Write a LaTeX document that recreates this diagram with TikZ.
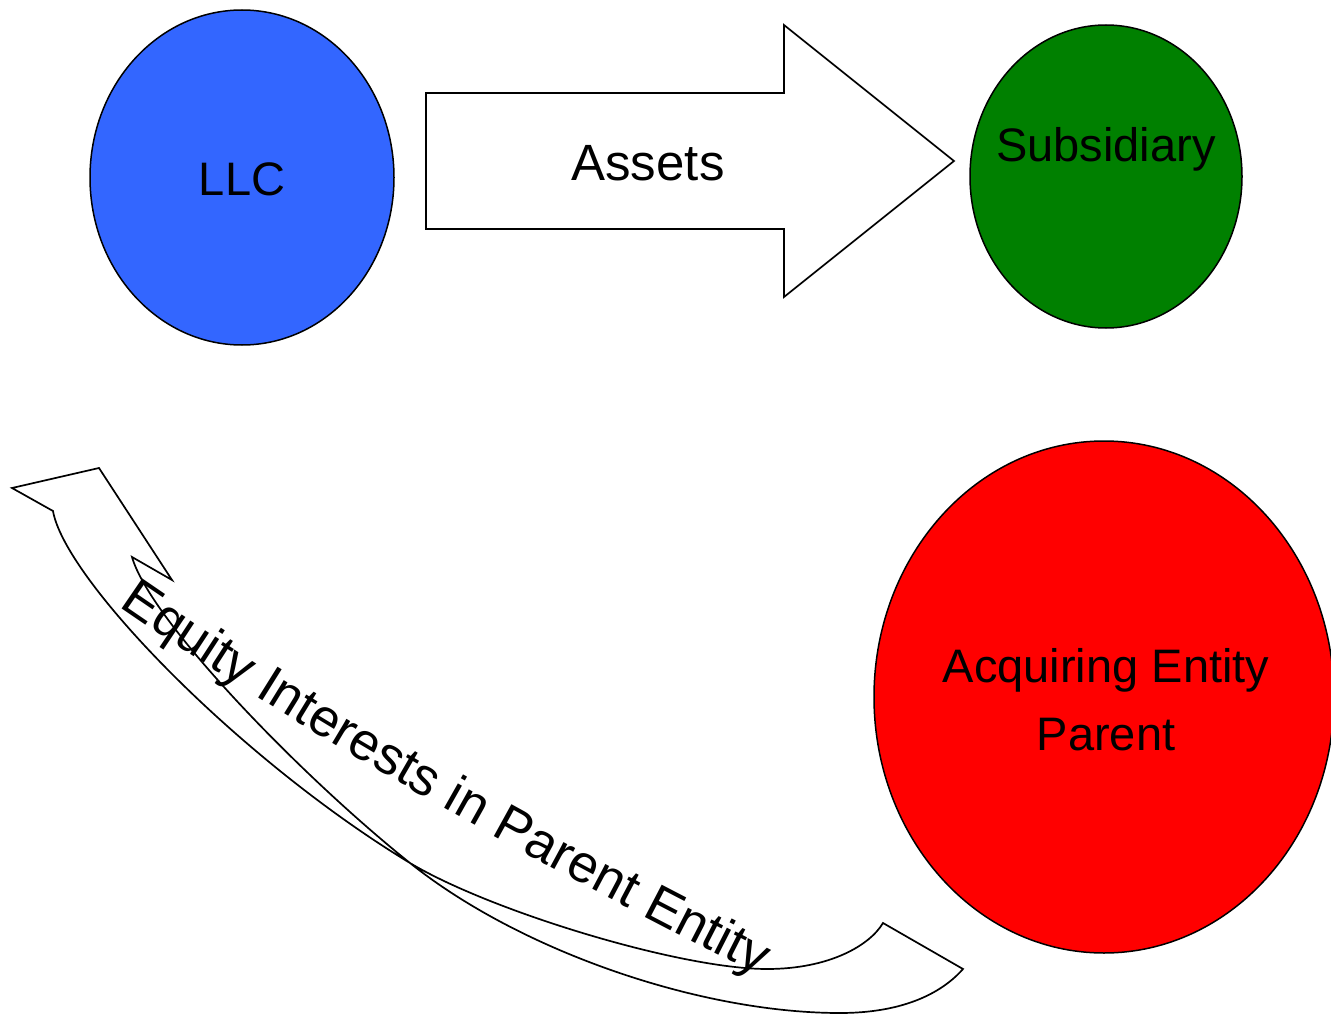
\documentclass[tikz,border=0pt]{standalone}
\usepackage{fontspec}
\setmainfont{Liberation Sans}
\usetikzlibrary{shapes.geometric,decorations.text}
\definecolor{llcblue}{HTML}{3366FF}
\definecolor{subgreen}{HTML}{008000}
\definecolor{parred}{HTML}{FF0000}
\tikzset{
  entity/.style={ellipse, draw=black, line width=1.5pt, inner sep=0pt},
  lbl/.style={font=\fontsize{47}{56}\selectfont, inner sep=0pt, anchor=base},
  outline/.style={draw=black, line width=1.7pt, line join=miter},
}
\begin{document}
\begin{tikzpicture}[x=1pt, y=-1pt]
\useasboundingbox (0,0) rectangle (1331,1014);

% entities
\node[entity, fill=llcblue, minimum width=304pt, minimum height=335pt] (llc) at (242,177.5) {};
\node[entity, fill=subgreen, minimum width=272pt, minimum height=303pt] (sub) at (1106,176.5) {};
\node[entity, fill=parred, minimum width=460pt, minimum height=512pt] (par) at (1104,697) {};

\node[lbl] (llctext) at (242,196) {LLC};
\node[lbl] (subtext) at (1106,162) {Subsidiary};
\node[lbl] (partextA) at (1106,682) {Acquiring Entity};
\node[lbl] (partextB) at (1106,750) {Parent};

% block arrow carrying the assets
\draw[outline, fill=white] (426,93) -- (784,93) -- (784,25) -- (954,161)
  -- (784,297) -- (784,229) -- (426,229) -- cycle;
\node[lbl, font=\fontsize{51}{60}\selectfont] (assets) at (648,181) {Assets};

% twisted curved arrow back to the LLC
\draw[outline]
  (12,488) -- (99,468) -- (172,580) -- (132,557)
  .. controls (150,620) and (300,775) .. (410,863)
  .. controls (520,951) and (700,1013) .. (840,1013)
  .. controls (900,1013) and (940,995) .. (963,969)
  -- (883,923)
  .. controls (870,945) and (830,969) .. (767,969)
  .. controls (680,969) and (490,911) .. (410,863)
  .. controls (240,760) and (65,580) .. (53,511)
  -- cycle;

% label following the curved arrow
\path[decorate, decoration={text along path, text align=left,
      text={|\fontsize{53}{60}\selectfont|Equity Interests in Parent Entity}}]
  (119,606) .. controls (324,748) and (567,880) .. (800,996);
\end{tikzpicture}
\end{document}
